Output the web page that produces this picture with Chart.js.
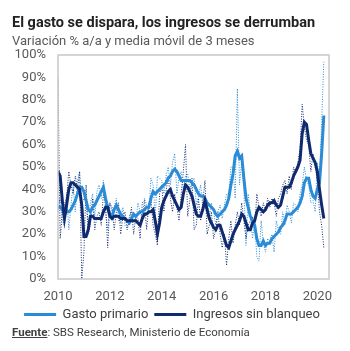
<!DOCTYPE html>
<html>
<head>
<meta charset="utf-8">
<script src="https://cdn.jsdelivr.net/npm/chart.js@4"></script>
<style>
  html, body { margin: 0; padding: 0; background: #fff; }
  body { width: 350px; height: 351px; position: relative; overflow: hidden; font-family: Roboto, sans-serif; }
  #title { position: absolute; left: 12px; top: 14px; font-size: 14.5px; font-weight: bold; color: #222; line-height: 18px; white-space: nowrap; }
  #subtitle { position: absolute; left: 12px; top: 32px; font-size: 13px; color: #595959; line-height: 17px; white-space: nowrap; }
  #source { position: absolute; left: 12px; top: 325px; font-size: 11.5px; color: #404040; line-height: 14px; white-space: nowrap; }
  #source b { text-decoration: underline; }
  #wrap { position: absolute; left: 0; top: 0; width: 350px; height: 351px; }
</style>
</head>
<body>
<div id="wrap"><canvas id="chart"></canvas></div>
<div id="title">El gasto se dispara, los ingresos se derrumban</div>
<div id="subtitle">Variación % a/a y media móvil de 3 meses</div>
<div id="source"><b>Fuente</b>: SBS Research, Ministerio de Economía</div>
<script>
// Serie mensual desde enero 2010 (variación % a/a)
const startYear = 2010;
const seriesNames = ['Gasto primario', 'Ingresos sin blanqueo'];
const xTickYears = [2010, 2012, 2014, 2016, 2018, 2020];

// Gasto primario - media móvil 3 meses
const gastoMA = [
  32, 32, 31, 29, 30, 30, 31, 33, 35, 38, 41, 41,
  39, 35, 31, 30, 32, 33, 35, 37, 39, 41, 36, 32,
  29, 28, 31, 33, 31, 29, 28, 27, 26, 25, 27, 29,
  28, 29, 30, 30, 31, 32, 32, 36, 39, 38, 39, 40,
  41, 42, 43, 45, 46, 48, 49, 48, 46, 44, 44, 44,
  44, 44, 43, 42, 40, 38, 37, 37, 36, 34, 33, 32,
  31, 29, 28, 29, 30, 31, 33, 36, 42, 47, 55, 57,
  54, 55, 45, 36, 32, 28, 26, 24, 18, 15, 15, 17,
  15, 16, 16, 18, 19, 20, 21, 23, 24, 26, 29, 29,
  29, 30, 31, 32, 34, 37, 43, 45, 45, 40, 37, 36,
  40, 43, 56, 73
];
// Gasto primario - dato mensual
const gastoMes = [
  30, 36, 26, 24, 38, 22, 33, 42, 30, 44, 48, 33,
  36, 34, 22, 34, 38, 28, 39, 42, 36, 44, 30, 22,
  34, 30, 32, 36, 26, 25, 32, 24, 23, 28, 30, 28,
  25, 34, 30, 27, 36, 33, 29, 45, 42, 28, 46, 45,
  44, 38, 46, 50, 42, 52, 56, 38, 45, 48, 40, 46,
  47, 40, 43, 45, 33, 37, 42, 32, 36, 35, 28, 34,
  30, 24, 30, 33, 27, 33, 38, 38, 50, 50, 36, 85,
  42, 53, 40, 15, 38, 30, 18, 26, 10, 8, 26, 16,
  12, 18, 17, 20, 12, 26, 22, 20, 30, 24, 33, 30,
  25, 34, 33, 30, 38, 42, 50, 44, 42, 34, 35, 30,
  52, 44, 70, 97
];
// Ingresos sin blanqueo - media móvil 3 meses
const ingresosMA = [
  48, 46, 35, 27, 33, 40, 43, 43, 42, 41, 40, 33,
  19, 19, 22, 28, 28, 27, 27, 27, 27, 30, 32, 32,
  28, 27, 28, 28, 28, 27, 27, 27, 26, 26, 26, 26,
  26, 25, 24, 27, 29, 29, 30, 30, 31, 26, 20, 25,
  32, 35, 37, 39, 40, 37, 35, 33, 31, 32, 38, 42,
  41, 39, 37, 33, 29, 28, 28, 31, 35, 31, 27, 25,
  23, 22, 24, 24, 21, 18, 15, 14, 17, 20, 22, 24,
  26, 29, 28, 25, 22, 22, 25, 26, 30, 32, 31, 30,
  31, 33, 34, 34, 35, 33, 32, 33, 37, 41, 41, 41,
  43, 46, 48, 50, 53, 65, 70, 69, 62, 56, 54, 52,
  48, 40, 33, 27
];
// Ingresos sin blanqueo - dato mensual
const ingresosMes = [
  90, 18, 30, 33, 37, 48, 42, 38, 46, 40, 48, 0,
  12, 42, 20, 25, 36, 22, 28, 30, 24, 38, 34, 14,
  34, 32, 22, 30, 34, 20, 28, 30, 22, 26, 32, 20,
  28, 27, 18, 34, 35, 22, 33, 36, 24, 20, 15, 38,
  42, 30, 39, 46, 36, 30, 38, 32, 26, 38, 48, 60,
  28, 35, 45, 22, 24, 36, 26, 34, 44, 20, 24, 30,
  18, 22, 30, 20, 14, 20, 6, 18, 26, 16, 24, 30,
  24, 34, 26, 18, 24, 26, 28, 22, 38, 32, 28, 34,
  30, 36, 32, 36, 34, 28, 36, 38, 42, 44, 38, 46,
  40, 50, 48, 52, 58, 78, 68, 62, 60, 48, 56, 50,
  44, 30, 24, 14
];

const colors = {
  gasto: '#2a8bd6',
  ingresos: '#0f2a6e',
  frame: '#c8c8c8',
  tick: '#595959',
  legend: '#404040'
};

function toPoints(values) {
  return values.map((v, i) => ({ x: startYear + i / 12, y: v }));
}

// marco gris alrededor del área del gráfico
const framePlugin = {
  id: 'frame',
  afterDraw(chart) {
    const a = chart.chartArea;
    const ctx = chart.ctx;
    ctx.save();
    ctx.strokeStyle = colors.frame;
    ctx.lineWidth = 1.5;
    ctx.strokeRect(a.left, a.top, a.right - a.left, a.bottom - a.top);
    ctx.restore();
  }
};

const ctx = document.getElementById('chart').getContext('2d');
new Chart(ctx, {
  type: 'line',
  data: {
    datasets: [
      {
        label: seriesNames[0],
        data: toPoints(gastoMA),
        borderColor: colors.gasto,
        backgroundColor: colors.gasto,
        borderWidth: 3,
        pointRadius: 0,
        order: 1
      },
      {
        label: seriesNames[1],
        data: toPoints(ingresosMA),
        borderColor: colors.ingresos,
        backgroundColor: colors.ingresos,
        borderWidth: 3,
        pointRadius: 0,
        order: 0
      },
      {
        label: seriesNames[0] + ' (mensual)',
        data: toPoints(gastoMes),
        borderColor: colors.gasto,
        borderWidth: 1,
        borderDash: [1, 1.5],
        pointRadius: 0,
        order: 3
      },
      {
        label: seriesNames[1] + ' (mensual)',
        data: toPoints(ingresosMes),
        borderColor: colors.ingresos,
        borderWidth: 1,
        borderDash: [1, 1.5],
        pointRadius: 0,
        order: 2
      }
    ]
  },
  options: {
    responsive: true,
    maintainAspectRatio: false,
    animation: false,
    layout: {
      padding: { top: 55, left: 15, right: 21, bottom: 20 }
    },
    plugins: {
      legend: {
        position: 'bottom',
        labels: {
          color: colors.legend,
          font: { family: 'Roboto', size: 13 },
          boxWidth: 32,
          boxHeight: 3,
          padding: 6,
          generateLabels: chart => {
            const items = Chart.defaults.plugins.legend.labels.generateLabels(chart);
            return items
              .filter(item => item.datasetIndex < 2)
              .sort((a, b) => a.datasetIndex - b.datasetIndex)
              .map(item => Object.assign(item, { lineWidth: 0 }));
          }
        }
      },
      tooltip: { enabled: false }
    },
    scales: {
      x: {
        type: 'linear',
        min: 2010,
        max: 2020.45,
        grid: { display: false, drawTicks: false },
        border: { display: false },
        afterBuildTicks: scale => {
          scale.ticks = xTickYears.map(v => ({ value: v }));
        },
        afterFit: scale => { scale.height = 23; },
        ticks: {
          color: colors.tick,
          font: { family: 'Roboto', size: 13 },
          padding: 10,
          maxRotation: 0,
          callback: v => String(v)
        }
      },
      y: {
        min: 0,
        max: 100,
        grid: { display: false, drawTicks: false },
        border: { display: false },
        afterFit: scale => { scale.width = 43; },
        ticks: {
          stepSize: 10,
          color: colors.tick,
          font: { family: 'Roboto', size: 13 },
          padding: 12,
          callback: v => v + '%'
        }
      }
    }
  },
  plugins: [framePlugin]
});
</script>
</body>
</html>
